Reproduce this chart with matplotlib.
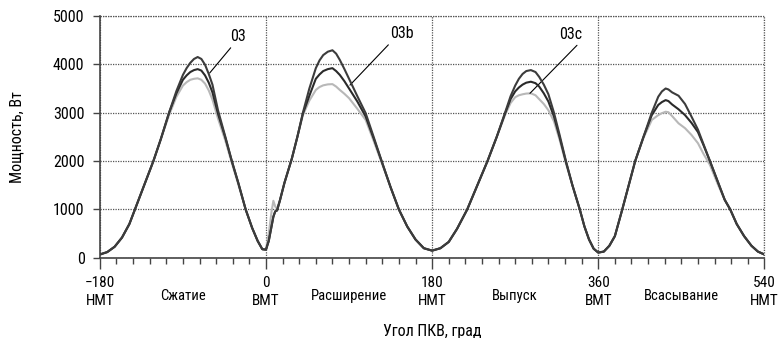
"""Мощность по углу ПКВ: три кривые 03, 03b, 03c."""

import matplotlib.pyplot as plt
from matplotlib.ticker import FixedLocator, MultipleLocator
import matplotlib.transforms as mtransforms

plt.rcParams["font.family"] = ["Roboto Condensed", "Liberation Sans Narrow", "DejaVu Sans Condensed",
                               "Liberation Sans", "DejaVu Sans"]

angle = [
    -180, -172, -164, -156, -148, -142, -136, -129, -122, -114, -105, -97, -90,
    -86, -82, -78, -74, -70, -66, -62, -58, -52, -44, -37, -30, -22, -15, -9, -4, 0,
    3, 6, 8, 10, 12, 15, 20, 28, 34, 40, 47, 54, 58, 62, 67, 72, 76, 80, 85, 90, 99, 108, 117,
    126, 135, 144, 153, 162, 171, 180,
    189, 198, 207, 218, 229, 240, 250, 259, 265, 270, 274, 278, 282, 287, 292, 296, 301, 306, 312,
    318, 325, 332, 340, 345, 350, 355, 360,
    366, 372, 378, 386, 393, 400, 409, 418, 425, 429, 433, 436, 440, 447, 454, 461, 468,
    474, 481, 490, 497, 503, 510, 518, 526, 533, 540,
]

power_top = [
    70, 120, 230, 420, 700, 1000, 1300, 1650, 2000, 2450, 3000, 3450, 3780,
    3920, 4030, 4110, 4150, 4110, 3990, 3800, 3580, 3050, 2500, 2000, 1550, 1000, 620, 350, 180, 170,
    350, 650, 850, 960, 980, 1180, 1550, 2050, 2500, 3000, 3500, 3920, 4080, 4190, 4260, 4290, 4220, 4090, 3900, 3700, 3340, 2990, 2480,
    1960, 1460, 1000, 650, 380, 200, 150,
    200, 330, 600, 1000, 1500, 2000, 2500, 3000, 3340, 3560, 3700, 3800, 3860, 3880, 3840, 3740, 3580, 3380, 3000,
    2550, 2000, 1500, 1000, 650, 380, 190, 110,
    130, 250, 450, 1000, 1500, 2000, 2500, 3000, 3330, 3440, 3500, 3480, 3420, 3350, 3180, 2920, 2650,
    2350, 2000, 1550, 1200, 1000, 700, 450, 250, 130, 70,
]

power_mid = [
    70, 120, 230, 420, 700, 1000, 1300, 1650, 2000, 2450, 3000, 3400, 3680,
    3770, 3840, 3880, 3900, 3870, 3770, 3620, 3420, 2980, 2480, 2000, 1550, 1000, 620, 350, 180, 170,
    350, 650, 850, 960, 980, 1180, 1550, 2050, 2500, 2980, 3350, 3700, 3790, 3860, 3900, 3920, 3860, 3780, 3650, 3500, 3230, 2920, 2450,
    1960, 1460, 1000, 650, 380, 200, 150,
    200, 330, 600, 1000, 1500, 2000, 2500, 2980, 3280, 3440, 3520, 3580, 3620, 3640, 3610, 3540, 3400, 3230, 2920,
    2500, 1980, 1500, 1000, 650, 380, 190, 110,
    130, 250, 450, 1000, 1500, 2000, 2500, 2950, 3160, 3220, 3260, 3240, 3170, 3070, 2950, 2790, 2600,
    2330, 2000, 1550, 1200, 1000, 700, 450, 250, 130, 70,
]

power_low = [
    70, 120, 230, 420, 700, 1000, 1300, 1650, 2000, 2450, 2950, 3330, 3560,
    3630, 3680, 3700, 3710, 3680, 3600, 3460, 3270, 2880, 2420, 1960, 1520, 1000, 620, 350, 180, 170,
    500, 950, 1180, 1060, 1020, 1180, 1550, 2050, 2500, 2950, 3250, 3470, 3530, 3565, 3585, 3590, 3540, 3470, 3390, 3300, 3080, 2850, 2400,
    1930, 1460, 1000, 650, 380, 200, 150,
    200, 330, 600, 1000, 1500, 2000, 2500, 2950, 3200, 3320, 3360, 3380, 3395, 3400, 3360, 3280, 3180, 3050, 2820,
    2450, 1950, 1500, 1000, 650, 380, 190, 110,
    130, 250, 450, 1000, 1500, 2000, 2480, 2850, 2950, 2990, 3020, 3010, 2930, 2780, 2680, 2540, 2370,
    2150, 1920, 1500, 1200, 1000, 700, 450, 250, 130, 70,
]

tick_pos = [-180, 0, 180, 360, 540]
tick_labels = ["\u2212180\nНМТ", "0\nВМТ", "180\nНМТ", "360\nВМТ", "540\nНМТ"]
stroke_pos = [-90, 90, 270, 450]
stroke_names = ["Сжатие", "Расширение", "Выпуск", "Всасывание"]
curve_names = ["03", "03b", "03c"]
# точка на кривой, центр подписи, откуда выходит выноска (доля ширины подписи)
callout_xy = [(-61, 3820), (91, 3570), (286, 3400)]
callout_text = [(-30, 4420), (147, 4480), (330, 4470)]
callout_rel = [0.3, 0.15, 1.0]

fig = plt.figure(figsize=(7.8, 3.38), dpi=100)
ax = fig.add_axes([0.128, 0.237, 0.852, 0.716])

ax.plot(angle, power_low, color="#b8b8b8", lw=1.5, zorder=3)
ax.plot(angle, power_mid, color="#2a2a2a", lw=1.5, zorder=4)
ax.plot(angle, power_top, color="#3c3c3c", lw=1.5, zorder=4)

ax.set_xlim(-180, 540)
ax.set_ylim(0, 5000)
ax.xaxis.set_major_locator(FixedLocator(tick_pos))
ax.xaxis.set_minor_locator(MultipleLocator(18))
ax.set_xticklabels(tick_labels, fontsize=11, linespacing=1.4)
ax.yaxis.set_major_locator(MultipleLocator(1000))
ax.tick_params(axis="y", labelsize=11.5, length=5, width=1, color="#444444", pad=6)
ax.tick_params(axis="x", which="major", length=8, width=1, color="#444444", pad=5)
ax.tick_params(axis="x", which="minor", length=4, width=1, color="#444444")

ax.grid(True, which="major", color="#555555", linestyle=(0, (1, 1)), lw=0.9)
for side in ("top", "right"):
    ax.spines[side].set_visible(False)
ax.axhline(5000, color="#555555", linestyle=(0, (1, 1)), lw=0.9, clip_on=False)
ax.axvline(540, color="#555555", linestyle=(0, (1, 1)), lw=0.9, clip_on=False)
for side in ("left", "bottom"):
    ax.spines[side].set_color("#444444")
    ax.spines[side].set_linewidth(1.2)

trans = mtransforms.blended_transform_factory(ax.transData, ax.transAxes)
for x, name in zip(stroke_pos, stroke_names):
    ax.text(x, -0.157, name, transform=trans, ha="center", va="center", fontsize=10.5)

for name, xy, xytext, rel in zip(curve_names, callout_xy, callout_text, callout_rel):
    ax.annotate(name, xy=xy, xytext=xytext, ha="center", va="bottom", fontsize=11.5,
                arrowprops=dict(arrowstyle="-", color="black", lw=0.8, shrinkA=1, shrinkB=0,
                                relpos=(rel, 0.1)))

ax.set_xlabel("Угол ПКВ, град", fontsize=11.5, labelpad=11)
ax.set_ylabel("Мощность, Вт", fontsize=11.5)
ax.yaxis.set_label_coords(-0.113, 0.5)

fig.savefig("out.png", dpi=100)
